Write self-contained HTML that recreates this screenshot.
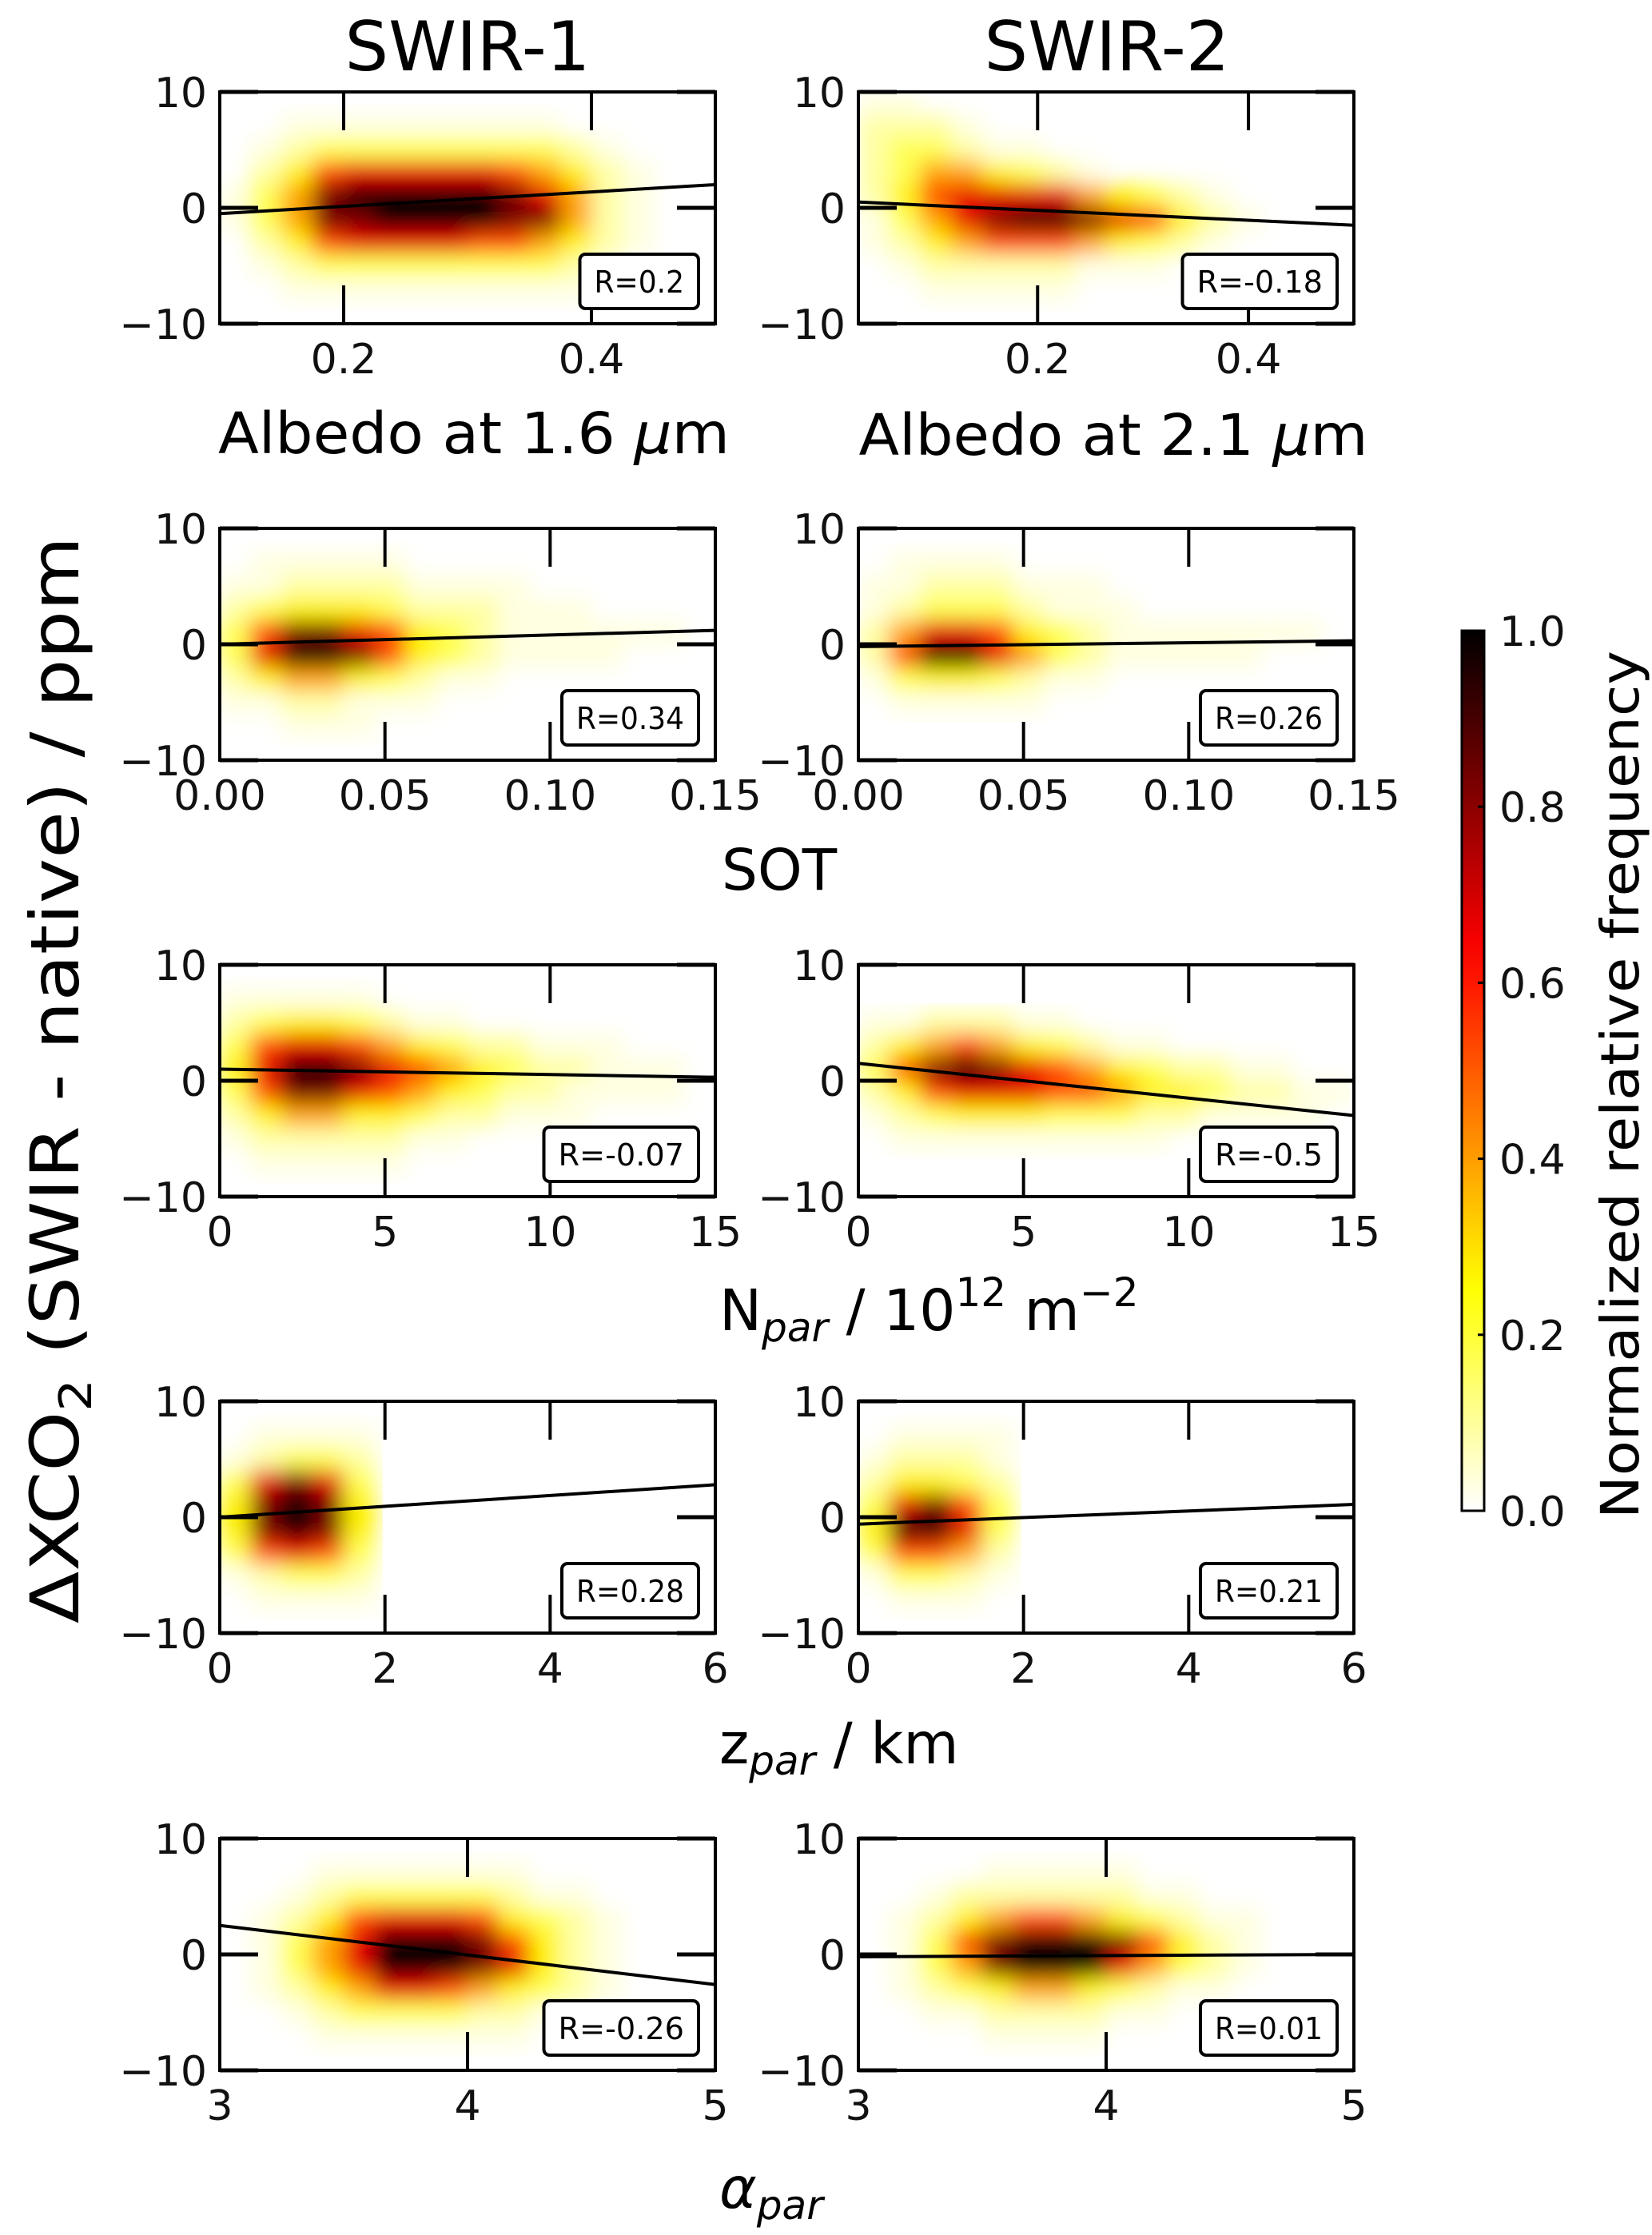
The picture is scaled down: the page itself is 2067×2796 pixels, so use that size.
<!DOCTYPE html>
<html><head><meta charset="utf-8"><style>
html,body{margin:0;padding:0;background:#fff;}
svg{display:block;font-family:"DejaVu Sans","Liberation Sans",sans-serif;}
</style></head>
<body>
<svg id="fig" width="2067" height="2796" viewBox="0 0 2067 2796" xmlns="http://www.w3.org/2000/svg">
<defs>
<filter id="blur" x="-5%" y="-5%" width="110%" height="110%"><feGaussianBlur stdDeviation="13"/></filter>
<linearGradient id="cbgrad" x1="0" y1="1" x2="0" y2="0"></linearGradient>
</defs>
<rect x="0" y="0" width="2067" height="2796" fill="#fff"/>
<text x="585" y="88" font-size="86" text-anchor="middle">SWIR-1</text>
<text x="1385" y="88" font-size="86" text-anchor="middle">SWIR-2</text>
<text transform="translate(98,1351) rotate(-90)" font-size="84" text-anchor="middle" textLength="1360" lengthAdjust="spacingAndGlyphs">ΔXCO<tspan font-size="56" dy="16">2</tspan><tspan dy="-16"> (SWIR - native) / ppm</tspan></text>
<text x="593" y="567" font-size="71" text-anchor="middle" textLength="640" lengthAdjust="spacingAndGlyphs">Albedo at  1.6 <tspan font-style="italic">μ</tspan>m</text>
<text x="1393" y="569" font-size="71" text-anchor="middle" textLength="637" lengthAdjust="spacingAndGlyphs">Albedo at  2.1 <tspan font-style="italic">μ</tspan>m</text>
<text x="975" y="1113" font-size="71" text-anchor="middle">SOT</text>
<text x="900" y="1664" font-size="71">N<tspan font-style="italic" font-size="50" dy="14">par</tspan><tspan dy="-14"> / 10</tspan><tspan font-size="50" dy="-30">12</tspan><tspan dy="30"> m</tspan><tspan font-size="50" dy="-30">−2</tspan></text>
<text x="900" y="2206" font-size="71">z<tspan font-style="italic" font-size="50" dy="14">par</tspan><tspan dy="-14"> / km</tspan></text>
<text x="900" y="2762" font-size="71"><tspan font-style="italic">α</tspan><tspan font-style="italic" font-size="50" dy="14">par</tspan></text>
<g id="panels"></g>
<g id="colorbar"></g>
<text transform="translate(2050,1357) rotate(-90)" font-size="66" text-anchor="middle" textLength="1086" lengthAdjust="spacingAndGlyphs">Normalized relative frequency</text>
</svg>
<script>
// ---- data ----
const rowTops = [115, 661, 1207, 1753, 2300];
const xRanges = [[0.1,0.5],[0.03,0.5],[0,0.15],[0,0.15],[0,15],[0,15],[0,6],[0,6],[3,5],[3,5]];
const xTicksA = [[0.2,0.4],[0.2,0.4],[0,0.05,0.1,0.15],[0,0.05,0.1,0.15],[0,5,10,15],[0,5,10,15],[0,2,4,6],[0,2,4,6],[3,4,5],[3,4,5]];
const xTickLabels = [["0.2","0.4"],["0.2","0.4"],["0.00","0.05","0.10","0.15"],["0.00","0.05","0.10","0.15"],["0","5","10","15"],["0","5","10","15"],["0","2","4","6"],["0","2","4","6"],["3","4","5"],["3","4","5"]];
const yTicks = [10, 0, -10];
const yTickLabels = ["10","0","−10"];
const fitStartY = [-0.5, 0.5, 0.0, -0.2, 1.0, 1.5, 0.0, -0.6, 2.5, -0.2];
const fitEndY   = [ 2.0,-1.5, 1.2,  0.3, 0.3,-3.0, 2.8,  1.1,-2.6,  0.0];
const rLabels = ["R=0.2","R=-0.18","R=0.34","R=0.26","R=-0.07","R=-0.5","R=0.28","R=0.21","R=-0.26","R=0.01"];
const panelNames = ["albedo-1-6-swir-1","albedo-2-1-swir-2","sot-swir-1","sot-swir-2","npar-swir-1","npar-swir-2","zpar-swir-1","zpar-swir-2","alpha-par-swir-1","alpha-par-swir-2"];
// heatmap grids: 10 rows (y=+10 top to -10 bottom), 16 columns across x range; digit level 0-9
const heatAlbedo16 = ["0000000000000000","0011111111100000","0123333333321000","0246777776542100","1358999998752100","1358899998852100","0246777766542100","0123333333321000","0011111111110000","0000000000000000"];
const heatAlbedo21 = ["1100000000000000","2221000000000000","2332110000000000","2355432100000000","2467777543210000","1357899876421000","1245666543210000","0122222111000000","0011111000000000","0000000000000000"];
const heatSot1 = ["0000000000000000","0111110000000000","1122221111000000","2344432221110000","3688764321111110","3799864321111000","2455432110000000","1122111000000000","0011100000000000","0000000000000000"];
const heatSot2 = ["0000000000000000","0111100000000000","1122211100000000","1233321110000000","2577643211111110","2699753211111000","1344321100000000","0111110000000000","0000000000000000","0000000000000000"];
const heatNpar1 = ["0000000000000000","1111100000000000","2344321100000000","3677654322111000","4799876543221110","3688765432211110","2455443221110000","1222221100000000","0111110000000000","0000000000000000"];
const heatNpar2 = ["0000000000000000","0000000000000000","1122211000000000","2456543211000000","3689876543221100","2467776654432211","1234443332211110","0111111111000000","0000000000000000","0000000000000000"];
const heatZpar1 = ["0000000000000000","0111100000000000","1233200000000000","3787300000000000","4898400000000000","4898400000000000","3676300000000000","1233200000000000","0111100000000000","0000000000000000"];
const heatZpar2 = ["0000000000000000","0111100000000000","1222100000000000","2443200000000000","3786300000000000","4997300000000000","3665200000000000","1332100000000000","0111000000000000","0000000000000000"];
const heatAlpha1 = ["0000000000000000","0001111111000000","0012333332110000","0124677764321000","0135799986421000","0135799987421000","0124577654321000","0012333322110000","0001111111000000","0000000000000000"];
const heatAlpha2 = ["0000000000000000","0000111110000000","0012222221100000","0124566543211000","0136899986421000","0135899975321000","0123455432110000","0011222211000000","0000111100000000","0000000000000000"];
const heats = [heatAlbedo16, heatAlbedo21, heatSot1, heatSot2, heatNpar1, heatNpar2, heatZpar1, heatZpar2, heatAlpha1, heatAlpha2];
const cbTicks = [0, 0.2, 0.4, 0.6, 0.8, 1.0];
const cbTickLabels = ["0.0","0.2","0.4","0.6","0.8","1.0"];

// ---- helpers ----
const NS = "http://www.w3.org/2000/svg";
function mk(tag, attrs, parent){ const e=document.createElementNS(NS,tag); for(const k in attrs) e.setAttribute(k,attrs[k]); if(parent) parent.appendChild(e); return e; }
function hotR(v){ const t=1-v; const r=Math.min(1,t/0.365), g=Math.max(0,Math.min(1,(t-0.365)/0.381)), b=Math.max(0,Math.min(1,(t-0.746)/0.254)); return `rgb(${Math.round(r*255)},${Math.round(g*255)},${Math.round(b*255)})`; }

const colX = [275, 1074];
const PW = 620, PH = 290;
const panelsG = document.getElementById('panels');

for(let i=0;i<10;i++){
  const x0 = colX[i%2], y0 = rowTops[Math.floor(i/2)];
  const [xmin,xmax] = xRanges[i];
  const sx = v => x0 + (v-xmin)/(xmax-xmin)*PW;
  const sy = v => y0 + (10-v)/20*PH;
  const g = mk('g',{},panelsG);
  
  
  const clip = mk('clipPath',{id:'clip'+i},g);
  mk('rect',{x:x0,y:y0,width:PW,height:PH},clip);
  const hg = mk('g',{'clip-path':`url(#clip${i})`},g);
  const hb = mk('g',{filter:'url(#blur)'},hg);
  const grid = heats[i], nr = grid.length, nc = grid[0].length;
  for(let r=0;r<nr;r++) for(let c=0;c<nc;c++){
    const v = Math.pow(parseInt(grid[r][c])/9, 1.6);
    if(v<=0) continue;
    const xa = sx(xmin+(xmax-xmin)*c/nc), xb = sx(xmin+(xmax-xmin)*(c+1)/nc);
    const ya = sy(10-20*r/nr), yb = sy(10-20*(r+1)/nr);
    const cell = mk('rect',{x:xa-0.5,y:ya-0.5,width:xb-xa+1,height:yb-ya+1,fill:hotR(v)},hb);
    
    
  }
  const ln = mk('line',{x1:sx(xmin),y1:sy(fitStartY[i]),x2:sx(xmax),y2:sy(fitEndY[i]),stroke:'#000','stroke-width':4},hg);
  
  
  xTicksA[i].forEach((t,k)=>{
    const X = sx(t);
    mk('line',{x1:X,y1:y0,x2:X,y2:y0+48,stroke:'#000','stroke-width':4},g);
    mk('line',{x1:X,y1:y0+PH,x2:X,y2:y0+PH-48,stroke:'#000','stroke-width':4},g);
    const tl = mk('text',{x:X,y:y0+PH+62,'font-size':52,'text-anchor':'middle',fill:'#111'},g);
    tl.textContent = xTickLabels[i][k];
    
    
  });
  yTicks.forEach((t,k)=>{
    const Y = sy(t);
    mk('line',{x1:x0,y1:Y,x2:x0+48,y2:Y,stroke:'#000','stroke-width':5},g);
    mk('line',{x1:x0+PW,y1:Y,x2:x0+PW-48,y2:Y,stroke:'#000','stroke-width':5},g);
    const tl = mk('text',{x:x0-16,y:Y+19,'font-size':52,'text-anchor':'end',fill:'#111'},g);
    tl.textContent = yTickLabels[k];
    
    
  });
  const frame = mk('rect',{x:x0,y:y0,width:PW,height:PH,fill:'none',stroke:'#000','stroke-width':4},g);
  
  
  const label = rLabels[i];
  const tw = label.length*22.5;
  const bw = tw+36, bh = 68;
  const bx = x0+PW-21-bw, by = y0+PH-19-bh;
  const box = mk('rect',{x:bx,y:by,width:bw,height:bh,rx:7,fill:'#fff',stroke:'#000','stroke-width':4},g);
  
  
  const rt = mk('text',{x:bx+bw/2,y:by+bh/2+14,'font-size':38,'text-anchor':'middle',textLength:tw,lengthAdjust:'spacingAndGlyphs'},g);
  rt.textContent = label;
  
  
}

const grad = document.getElementById('cbgrad');
for(let s=0;s<=20;s++){ mk('stop',{offset:(s/20*100)+'%','stop-color':hotR(s/20)},grad); }
const cb = document.getElementById('colorbar');
const cbx=1829, cbw=28, cbTop=789, cbBot=1890;
const cy = v => cbBot - v*(cbBot-cbTop);
mk('rect',{x:cbx,y:cbTop,width:cbw,height:cbBot-cbTop,fill:'url(#cbgrad)',stroke:'#000','stroke-width':3},cb);
cbTicks.forEach((t,k)=>{
  const Y = cy(t);
  mk('line',{x1:cbx+cbw-8,y1:Y,x2:cbx+cbw,y2:Y,stroke:'#000','stroke-width':3},cb);
  const tl = mk('text',{x:1876,y:Y+19,'font-size':52,fill:'#111'},cb);
  tl.textContent = cbTickLabels[k];
  
  
});
</script>
</body></html>
